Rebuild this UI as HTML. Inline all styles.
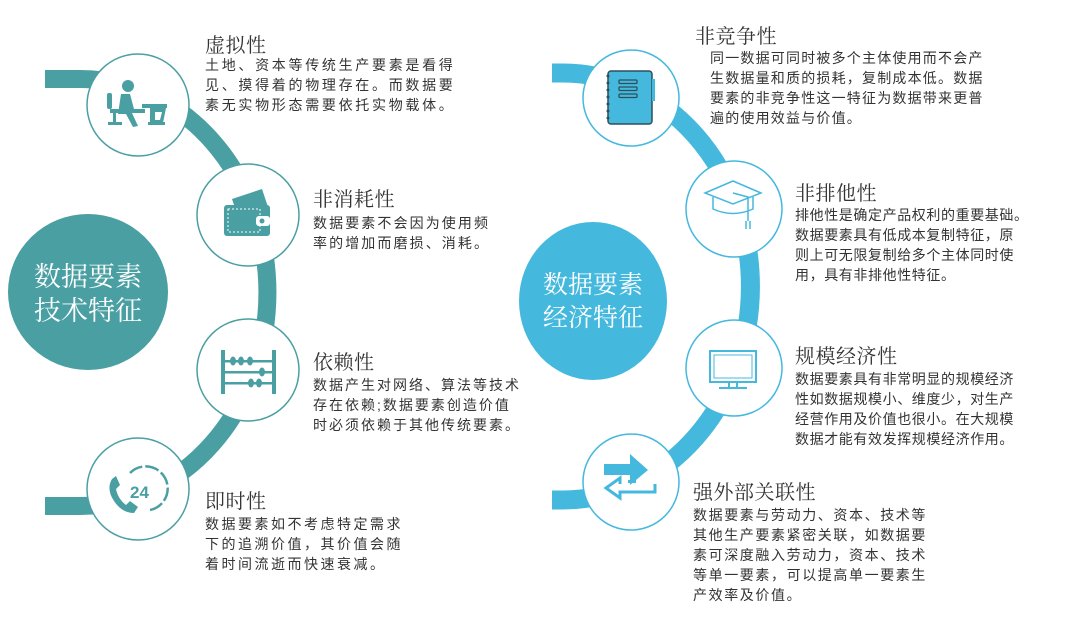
<!DOCTYPE html>
<html><head><meta charset="utf-8"><style>
html,body{margin:0;padding:0;background:#fff;}
body{width:1080px;height:617px;position:relative;overflow:hidden;font-family:"Liberation Sans","Noto Sans CJK SC",sans-serif;color:#333;}
.t{position:absolute;font-family:"Liberation Serif","Noto Serif CJK SC",serif;font-size:20px;line-height:22px;letter-spacing:0.5px;color:#333;white-space:nowrap;}
.b{position:absolute;font-size:14px;line-height:20px;white-space:nowrap;color:#333;}
.big{position:absolute;color:#fff;font-family:"Liberation Serif","Noto Serif CJK SC",serif;text-align:center;white-space:nowrap;}
svg{position:absolute;left:0;top:0;}
</style></head><body>
<svg width="1080" height="617" viewBox="0 0 1080 617">
  <path d="M45 79 L80 79 A187 213 0 0 1 80 506 L45 506" fill="none" stroke="#4a9fa3" stroke-width="18"/>
  <ellipse cx="88" cy="292" rx="80" ry="78" fill="#4a9fa3"/>
  <g fill="#fff" stroke="#4a9fa3" stroke-width="1.5">
    <circle cx="138" cy="105" r="51"/>
    <circle cx="248" cy="215" r="51"/>
    <circle cx="248" cy="370" r="51"/>
    <circle cx="138" cy="489" r="51"/>
  </g>
  <g fill="#4a9fa3" transform="translate(0,13)">
    <circle cx="128" cy="73" r="6"/>
    <path d="M121 81 L130 81 L134 96 L145 96 L145 100 L132 100 L138 113 L133 114 L126 101 L118 101 Z"/>
    <rect x="107" y="80" width="5" height="16" rx="2"/>
    <rect x="110" y="96" width="14" height="4"/>
    <rect x="113" y="100" width="3" height="10"/>
    <rect x="108" y="109" width="14" height="3"/>
    <rect x="142" y="91" width="25" height="4"/>
    <path d="M150 95 L166 95 L163 110 L150 110 Z M155 99 L155 107 L160 107 L162 99 Z" fill-rule="evenodd"/>
    <rect x="148" y="109" width="17" height="3"/>
  </g>
  <g transform="translate(0,27)">
    <path d="M232 172 L262 162 L268 180 L238 190 Z" fill="#4a9fa3"/>
    <rect x="224" y="178" width="46" height="31" rx="3" fill="#4a9fa3"/>
    <rect x="228" y="182" width="32" height="23" fill="none" stroke="#fff" stroke-width="1" stroke-dasharray="2 2"/>
    <rect x="256" y="189" width="14" height="10" rx="3" fill="#fff"/>
    <circle cx="262" cy="194" r="2.5" fill="#4a9fa3"/>
  </g>
  <g fill="#4a9fa3" transform="translate(0,46)">
    <rect x="221" y="304" width="4" height="44"/>
    <rect x="272" y="304" width="4" height="44"/>
    <rect x="225" y="314" width="47" height="2.5"/>
    <rect x="225" y="325" width="47" height="2.5"/>
    <rect x="225" y="336" width="47" height="2.5"/>
    <ellipse cx="233" cy="315" rx="3" ry="4.5"/><ellipse cx="241" cy="315" rx="3" ry="4.5"/><ellipse cx="250" cy="315" rx="3" ry="4.5"/>
    <ellipse cx="262" cy="326" rx="3" ry="4.5"/>
    <ellipse cx="251" cy="337" rx="3" ry="4.5"/><ellipse cx="259" cy="337" rx="3" ry="4.5"/>
  </g>
  <g transform="translate(0,61)">
    <path d="M130 412 A22 22 0 1 1 150 449" fill="none" stroke="#4a9fa3" stroke-width="2.5" stroke-dasharray="14 3"/>
    <path d="M112 418 Q106 428 114 440 Q122 452 134 452 L138 446 L130 440 L126 444 Q118 438 116 428 L120 424 L116 415 Z" fill="#4a9fa3"/>
    <text x="130" y="437" font-family="Liberation Sans" font-weight="bold" font-size="17" fill="#4a9fa3">24</text>
  </g>

  <path d="M552 73 L563 73 A187 213 0 0 1 563 500 L552 500" fill="none" stroke="#45b8de" stroke-width="19"/>
  <ellipse cx="593" cy="301" rx="74" ry="79" fill="#45b8de"/>
  <g fill="#fff" stroke="#45b8de" stroke-width="1.5">
    <circle cx="631" cy="98" r="48"/>
    <circle cx="734" cy="209" r="48"/>
    <circle cx="734" cy="368" r="48"/>
    <circle cx="631" cy="482" r="48"/>
  </g>
  <g transform="translate(0,12)">
    <rect x="608" y="59" width="44" height="53" rx="3" fill="#45b8de" stroke="#2f4f5a" stroke-width="1.5"/>
    <rect x="652" y="67" width="3" height="22" fill="#45b8de"/>
    <g fill="none" stroke="#2f4f5a" stroke-width="1.3">
      <rect x="619" y="68" width="18" height="3.5" rx="1"/>
      <rect x="619" y="75" width="18" height="3.5" rx="1"/>
      <rect x="619" y="82" width="18" height="3.5" rx="1"/>
    </g>
    <g fill="#2f4f5a"><circle cx="608" cy="64" r="1.5"/><circle cx="608" cy="71" r="1.5"/><circle cx="608" cy="78" r="1.5"/><circle cx="608" cy="85" r="1.5"/><circle cx="608" cy="92" r="1.5"/><circle cx="608" cy="99" r="1.5"/><circle cx="608" cy="106" r="1.5"/></g>
  </g>
  <g fill="none" stroke="#45b8de" stroke-width="1.5" transform="translate(0,26)">
    <path d="M705 167 L733 155 L761 167 L733 178 Z"/>
    <path d="M713 171 L713 183 Q733 192 753 183 L753 171"/>
    <path d="M733 167 L748 171 L748 195"/>
    <path d="M746 195 L746 203 M750 195 L750 203"/>
  </g>
  <g fill="none" stroke="#45b8de" stroke-width="2" transform="translate(0,46)">
    <rect x="710" y="305" width="46" height="31"/>
    <rect x="714" y="309" width="38" height="23" stroke-width="1"/>
    <path d="M729 336 L729 341 M737 336 L737 341 M719 342 L747 342"/>
  </g>
  <g fill="#45b8de" transform="translate(0,60)">
    <path d="M604 404 L630 404 L630 394 L648 410 L630 425 L630 415 L604 415 Z"/>
    <path d="M655 424 L655 432 L620 432 L620 438 L606 428 L620 418 L620 424" fill="none" stroke="#45b8de" stroke-width="3"/>
    <rect x="628" y="420" width="8" height="3"/>
  </g>
</svg>

<div class="big" style="left:8px;top:260px;width:160px;font-size:27px;line-height:34px;">数据要素<br>技术特征</div>
<div class="big" style="left:519px;top:269px;width:148px;font-size:25px;line-height:33px;">数据要素<br>经济特征</div>

<div class="t" style="left:205px;top:35px;">虚拟性</div>
<div class="b" style="left:205px;top:55px;letter-spacing:2.7px;">土地、资本等传统生产要素是看得<br>见、摸得着的物理存在。而数据要<br>素无实物形态需要依托实物载体。</div>

<div class="t" style="left:313px;top:189px;">非消耗性</div>
<div class="b" style="left:313px;top:213px;letter-spacing:2.1px;">数据要素不会因为使用频<br>率的增加而磨损、消耗。</div>

<div class="t" style="left:313px;top:352px;">依赖性</div>
<div class="b" style="left:313px;top:375px;letter-spacing:2px;">数据产生对网络、算法等技术<br>存在依赖;数据要素创造价值<br>时必须依赖于其他传统要素。</div>

<div class="t" style="left:205px;top:491px;">即时性</div>
<div class="b" style="left:205px;top:514px;letter-spacing:2.5px;">数据要素如不考虑特定需求<br>下的追溯价值，其价值会随<br>着时间流逝而快速衰减。</div>

<div class="t" style="left:695px;top:26px;">非竞争性</div>
<div class="b" style="left:710px;top:48px;letter-spacing:1.2px;">同一数据可同时被多个主体使用而不会产<br>生数据量和质的损耗，复制成本低。数据<br>要素的非竞争性这一特征为数据带来更普<br>遍的使用效益与价值。</div>

<div class="t" style="left:795px;top:183px;">非排他性</div>
<div class="b" style="left:795px;top:205px;letter-spacing:0.6px;">排他性是确定产品权利的重要基础。<br>数据要素具有低成本复制特征，原<br>则上可无限复制给多个主体同时使<br>用，具有非排他性特征。</div>

<div class="t" style="left:795px;top:346px;">规模经济性</div>
<div class="b" style="left:795px;top:369px;letter-spacing:0.6px;">数据要素具有非常明显的规模经济<br>性如数据规模小、维度少，对生产<br>经营作用及价值也很小。在大规模<br>数据才能有效发挥规模经济作用。</div>

<div class="t" style="left:693px;top:482px;">强外部关联性</div>
<div class="b" style="left:693px;top:505px;letter-spacing:1.6px;">数据要素与劳动力、资本、技术等<br>其他生产要素紧密关联，如数据要<br>素可深度融入劳动力，资本、技术<br>等单一要素，可以提高单一要素生<br>产效率及价值。</div>
</body></html>
